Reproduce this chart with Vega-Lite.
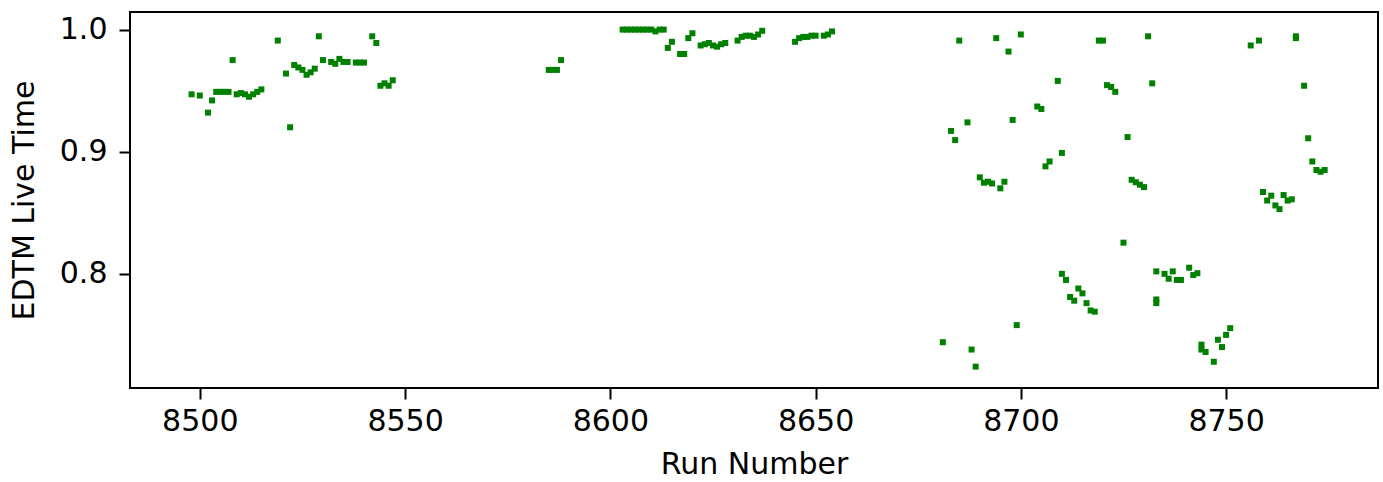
{
  "$schema": "https://vega.github.io/schema/vega-lite/v6.json",
  "autosize": {"type": "none"},
  "padding": {"left": 130, "top": 12, "right": 5, "bottom": 94},
  "width": 1248,
  "height": 376,
  "background": "white",
  "config": {
    "font": "DejaVu Sans",
    "view": {"stroke": "black", "strokeWidth": 2},
    "axis": {
      "grid": false,
      "domain": false,
      "tickColor": "black",
      "tickWidth": 2,
      "tickSize": 11,
      "labelFont": "DejaVu Sans",
      "labelFontSize": 30,
      "labelColor": "black",
      "titleFont": "DejaVu Sans",
      "titleFontSize": 30,
      "titleFontWeight": "normal",
      "titleColor": "black"
    }
  },
  "data": {
    "values": [
      {"run": 8498, "edtm": 0.947}, {"run": 8500, "edtm": 0.946}, {"run": 8502, "edtm": 0.932}, {"run": 8503, "edtm": 0.942},
      {"run": 8504, "edtm": 0.949}, {"run": 8505, "edtm": 0.949}, {"run": 8506, "edtm": 0.949}, {"run": 8507, "edtm": 0.949},
      {"run": 8508, "edtm": 0.975}, {"run": 8509, "edtm": 0.947}, {"run": 8510, "edtm": 0.948}, {"run": 8511, "edtm": 0.947},
      {"run": 8512, "edtm": 0.945}, {"run": 8513, "edtm": 0.947}, {"run": 8514, "edtm": 0.949}, {"run": 8515, "edtm": 0.951},
      {"run": 8519, "edtm": 0.991}, {"run": 8521, "edtm": 0.964}, {"run": 8522, "edtm": 0.920}, {"run": 8523, "edtm": 0.971},
      {"run": 8524, "edtm": 0.969}, {"run": 8525, "edtm": 0.967}, {"run": 8526, "edtm": 0.963}, {"run": 8527, "edtm": 0.965},
      {"run": 8528, "edtm": 0.968}, {"run": 8529, "edtm": 0.9945}, {"run": 8530, "edtm": 0.975}, {"run": 8532, "edtm": 0.9735},
      {"run": 8533, "edtm": 0.972}, {"run": 8534, "edtm": 0.976}, {"run": 8535, "edtm": 0.9735}, {"run": 8536, "edtm": 0.9735},
      {"run": 8538, "edtm": 0.973}, {"run": 8539, "edtm": 0.973}, {"run": 8540, "edtm": 0.973}, {"run": 8542, "edtm": 0.9945},
      {"run": 8543, "edtm": 0.989}, {"run": 8544, "edtm": 0.954}, {"run": 8545, "edtm": 0.956}, {"run": 8546, "edtm": 0.954},
      {"run": 8547, "edtm": 0.9585},
      {"run": 8585, "edtm": 0.967}, {"run": 8586, "edtm": 0.967}, {"run": 8587, "edtm": 0.967}, {"run": 8588, "edtm": 0.975},
      {"run": 8603, "edtm": 1.0}, {"run": 8604, "edtm": 1.0}, {"run": 8605, "edtm": 1.0}, {"run": 8606, "edtm": 1.0},
      {"run": 8607, "edtm": 1.0}, {"run": 8608, "edtm": 1.0}, {"run": 8609, "edtm": 1.0}, {"run": 8610, "edtm": 1.0},
      {"run": 8611, "edtm": 0.9985}, {"run": 8612, "edtm": 1.0}, {"run": 8613, "edtm": 1.0},
      {"run": 8614, "edtm": 0.985}, {"run": 8615, "edtm": 0.990}, {"run": 8617, "edtm": 0.980}, {"run": 8618, "edtm": 0.980},
      {"run": 8619, "edtm": 0.993}, {"run": 8620, "edtm": 0.997},
      {"run": 8622, "edtm": 0.987}, {"run": 8623, "edtm": 0.988}, {"run": 8624, "edtm": 0.989}, {"run": 8625, "edtm": 0.987},
      {"run": 8626, "edtm": 0.986}, {"run": 8627, "edtm": 0.988}, {"run": 8628, "edtm": 0.989},
      {"run": 8631, "edtm": 0.991}, {"run": 8632, "edtm": 0.994}, {"run": 8633, "edtm": 0.995}, {"run": 8634, "edtm": 0.995},
      {"run": 8635, "edtm": 0.994}, {"run": 8636, "edtm": 0.996}, {"run": 8637, "edtm": 0.999},
      {"run": 8645, "edtm": 0.990}, {"run": 8646, "edtm": 0.993}, {"run": 8647, "edtm": 0.994}, {"run": 8648, "edtm": 0.994},
      {"run": 8649, "edtm": 0.995}, {"run": 8650, "edtm": 0.995}, {"run": 8652, "edtm": 0.995}, {"run": 8653, "edtm": 0.996},
      {"run": 8654, "edtm": 0.9985},
      {"run": 8681, "edtm": 0.744}, {"run": 8683, "edtm": 0.917}, {"run": 8684, "edtm": 0.9095}, {"run": 8685, "edtm": 0.991},
      {"run": 8687, "edtm": 0.924}, {"run": 8688, "edtm": 0.738}, {"run": 8689, "edtm": 0.724}, {"run": 8690, "edtm": 0.879},
      {"run": 8691, "edtm": 0.8746}, {"run": 8692, "edtm": 0.8754}, {"run": 8693, "edtm": 0.874}, {"run": 8694, "edtm": 0.993},
      {"run": 8695, "edtm": 0.870}, {"run": 8696, "edtm": 0.8754}, {"run": 8697, "edtm": 0.982}, {"run": 8698, "edtm": 0.926},
      {"run": 8699, "edtm": 0.758}, {"run": 8700, "edtm": 0.996},
      {"run": 8704, "edtm": 0.937}, {"run": 8705, "edtm": 0.935}, {"run": 8706, "edtm": 0.888}, {"run": 8707, "edtm": 0.892},
      {"run": 8709, "edtm": 0.958}, {"run": 8710, "edtm": 0.899}, {"run": 8710, "edtm": 0.800}, {"run": 8711, "edtm": 0.795},
      {"run": 8712, "edtm": 0.781}, {"run": 8713, "edtm": 0.778}, {"run": 8714, "edtm": 0.788}, {"run": 8715, "edtm": 0.784},
      {"run": 8716, "edtm": 0.776}, {"run": 8717, "edtm": 0.770}, {"run": 8718, "edtm": 0.769},
      {"run": 8719, "edtm": 0.991}, {"run": 8720, "edtm": 0.991}, {"run": 8721, "edtm": 0.9545}, {"run": 8722, "edtm": 0.953},
      {"run": 8723, "edtm": 0.949}, {"run": 8725, "edtm": 0.8255}, {"run": 8726, "edtm": 0.912},
      {"run": 8727, "edtm": 0.877}, {"run": 8728, "edtm": 0.875}, {"run": 8729, "edtm": 0.873}, {"run": 8730, "edtm": 0.871},
      {"run": 8731, "edtm": 0.9945}, {"run": 8732, "edtm": 0.956}, {"run": 8733, "edtm": 0.779}, {"run": 8733, "edtm": 0.776},
      {"run": 8733, "edtm": 0.802}, {"run": 8735, "edtm": 0.800}, {"run": 8736, "edtm": 0.796}, {"run": 8737, "edtm": 0.802},
      {"run": 8738, "edtm": 0.795}, {"run": 8739, "edtm": 0.795}, {"run": 8741, "edtm": 0.805}, {"run": 8742, "edtm": 0.799},
      {"run": 8743, "edtm": 0.8005},
      {"run": 8744, "edtm": 0.742}, {"run": 8744, "edtm": 0.738}, {"run": 8745, "edtm": 0.736}, {"run": 8747, "edtm": 0.728},
      {"run": 8748, "edtm": 0.746}, {"run": 8749, "edtm": 0.740}, {"run": 8750, "edtm": 0.750}, {"run": 8751, "edtm": 0.7555},
      {"run": 8756, "edtm": 0.987}, {"run": 8758, "edtm": 0.991},
      {"run": 8759, "edtm": 0.867}, {"run": 8760, "edtm": 0.860}, {"run": 8761, "edtm": 0.864}, {"run": 8762, "edtm": 0.856},
      {"run": 8763, "edtm": 0.853}, {"run": 8764, "edtm": 0.8645}, {"run": 8765, "edtm": 0.860}, {"run": 8766, "edtm": 0.861},
      {"run": 8767, "edtm": 0.993}, {"run": 8767, "edtm": 0.9945}, {"run": 8769, "edtm": 0.954}, {"run": 8770, "edtm": 0.911},
      {"run": 8771, "edtm": 0.892}, {"run": 8772, "edtm": 0.885}, {"run": 8773, "edtm": 0.8836}, {"run": 8774, "edtm": 0.885}
    ]
  },
  "mark": {"type": "square", "size": 36, "color": "#008000", "opacity": 1, "filled": true},
  "encoding": {
    "x": {
      "field": "run",
      "type": "quantitative",
      "title": "Run Number",
      "scale": {"domain": [8483, 8787], "nice": false, "zero": false},
      "axis": {"values": [8500, 8550, 8600, 8650, 8700, 8750], "format": "d", "labelPadding": 7, "titlePadding": 13}
    },
    "y": {
      "field": "edtm",
      "type": "quantitative",
      "title": "EDTM Live Time",
      "scale": {"domain": [0.7065, 1.0144], "nice": false, "zero": false},
      "axis": {"values": [0.8, 0.9, 1.0], "format": ".1f", "labelPadding": 12, "titlePadding": 20}
    }
  }
}
